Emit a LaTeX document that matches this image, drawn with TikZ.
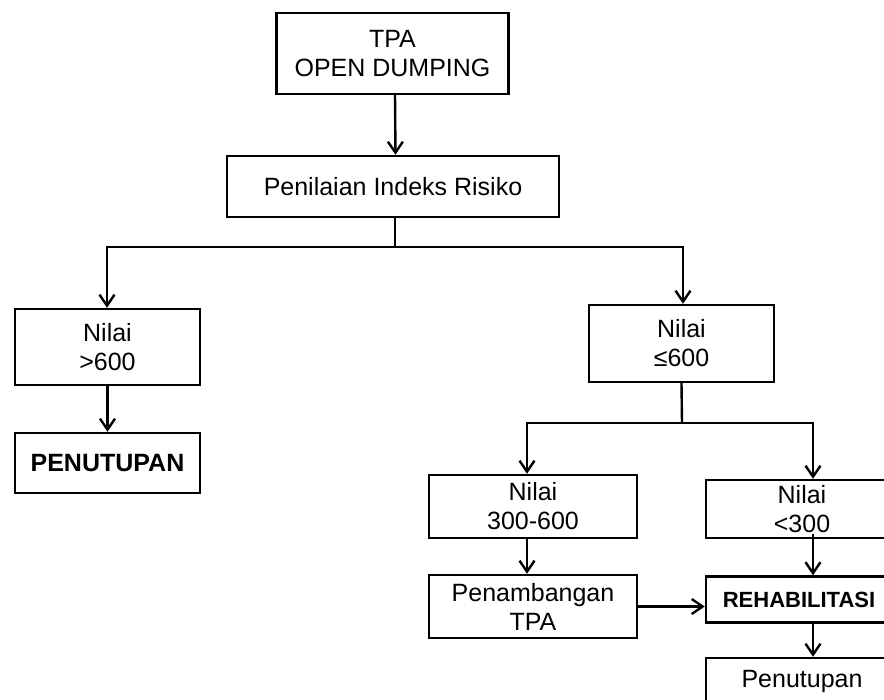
\documentclass[tikz,border=0pt]{standalone}
\usepackage{fontspec}
\setmainfont{Liberation Sans}
\usetikzlibrary{arrows.meta,calc}
\begin{document}
\begin{tikzpicture}[x=1pt,y=-1pt,
  box/.style={draw=black,line width=2.4pt,fill=white,align=center,inner sep=0pt,
    font=\fontsize{25}{29}\selectfont,text=black},
  conn/.style={line width=2.4pt,draw=black},
  arr/.style={conn,-{Straight Barb[length=11pt,width=15pt,line width=2.4pt]}}]
\useasboundingbox (0,0) rectangle (884,700);
\fill[white] (0,0) rectangle (884,700);
\clip (0,0) rectangle (884,700);
\node[box,minimum width=232pt,minimum height=81pt] (tpa) at (392.5,53.5) {TPA\\OPEN DUMPING};
\node[box,minimum width=332pt,minimum height=61pt] (pen) at (393,186.5) {Penilaian Indeks Risiko};
\node[box,minimum width=185pt,minimum height=76pt] (n1) at (107.5,347) {Nilai\\>600};
\node[box,minimum width=185pt,minimum height=60pt] (ptp) at (107.5,463) {\bfseries PENUTUPAN};
\node[box,minimum width=185pt,minimum height=77pt] (n2) at (681.5,343.5) {Nilai\\≤600};
\node[box,minimum width=208pt,minimum height=63pt] (n3) at (533,506.5) {Nilai\\300-600};
\node[box,minimum width=192pt,minimum height=58pt] (n4) at (802,509) {Nilai\\<300};
\node[box,minimum width=208pt,minimum height=63pt] (pt) at (533,606.5) {Penambangan\\TPA};
\node[box,minimum width=186pt,minimum height=46pt,font=\fontsize{22}{26}\selectfont\bfseries] (reh) at (799,599.5) {REHABILITASI};
\node[box,minimum width=192pt,minimum height=46pt] (ptn) at (802,681) {Penutupan};
\coordinate (j1) at (395,247);
\coordinate (j2) at (682,423);
\draw[arr] ([xshift=2.5pt]tpa.south) -- ([xshift=2.5pt]pen.north);
\draw[conn] ([xshift=2pt]pen.south) -- (j1);
\draw[arr] (j1) -| ([xshift=-0.5pt]n1.north);
\draw[arr] (j1) -| ([xshift=1.5pt]n2.north);
\draw[arr] (n1.south) -- (ptp.north);
\draw[conn] (n2.south) -- (j2);
\draw[arr] (j2) -| ([xshift=-6pt]n3.north);
\draw[arr] (j2) -| ([xshift=11pt]n4.north);
\draw[arr] ([xshift=-6pt]n3.south) -- ([xshift=-6pt]pt.north);
\draw[arr] ([xshift=11pt,yshift=5pt]n4.south) -- ([xshift=14pt]reh.north);
\draw[arr] (pt.east) -- (pt.east -| reh.west);
\draw[arr] ([xshift=14pt]reh.south) -- ([xshift=11pt]ptn.north);
\end{tikzpicture}
\end{document}
